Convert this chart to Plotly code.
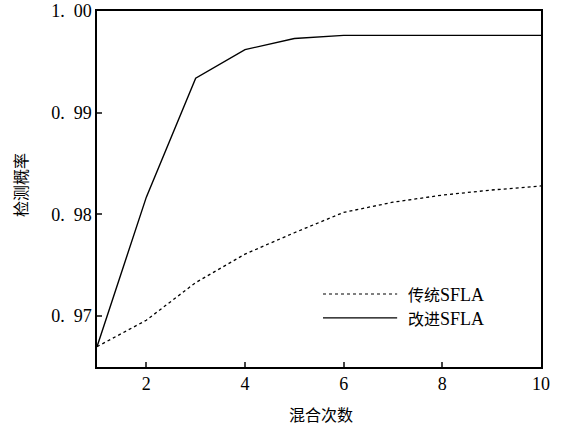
import plotly.graph_objects as go

mix_counts = [1, 2, 3, 4, 5, 6, 7, 8, 9, 10]
traditional_sfla = [0.9670, 0.9696, 0.9733, 0.9761, 0.9782, 0.9802, 0.9812, 0.9819, 0.9824, 0.9828]
improved_sfla = [0.9670, 0.9817, 0.9934, 0.9962, 0.9973, 0.9976, 0.9976, 0.9976, 0.9976, 0.9976]
series_names = ["传统SFLA", "改进SFLA"]
y_tick_vals = [0.97, 0.98, 0.99, 1.00]
y_tick_text = ["0.\u200297", "0.\u200298", "0.\u200299", "1.\u200200"]
x_tick_vals = [2, 4, 6, 8, 10]

serif = "Liberation Serif"
cjk = "Noto Sans CJK SC"

fig = go.Figure()
fig.add_trace(go.Scatter(x=mix_counts, y=traditional_sfla, mode="lines", name=series_names[0],
                         line=dict(color="black", width=1.3, dash="dot"), showlegend=False))
fig.add_trace(go.Scatter(x=mix_counts, y=improved_sfla, mode="lines", name=series_names[1],
                         line=dict(color="black", width=1.4), showlegend=False))

legend_rows = [(0.205, "dot", 1.2), (0.138, "solid", 1.4)]
for (yy, dash, w), name in zip(legend_rows, series_names):
    fig.add_shape(type="line", xref="paper", yref="paper", x0=0.509, x1=0.676, y0=yy, y1=yy,
                  line=dict(color="black", width=w, dash=dash))
    label = ('<span style="font-family:Noto Sans CJK SC;font-size:16px">' + name[:2] + '</span>'
             + '<span style="font-family:Liberation Serif">' + name[2:] + '</span>')
    fig.add_annotation(xref="paper", yref="paper", x=0.697, y=yy, text=label, showarrow=False,
                       xanchor="left", yanchor="middle",
                       font=dict(family=serif, size=18, color="black"))

fig.add_annotation(xref="paper", yref="paper", x=0.5045, y=-0.132, text="混合次数", showarrow=False,
                   xanchor="center", yanchor="middle", font=dict(family=cjk, size=16, color="black"))
fig.add_annotation(xref="paper", yref="paper", x=-0.1734, y=0.511, text="检测概率", showarrow=False,
                   textangle=-90, xanchor="center", yanchor="middle",
                   font=dict(family=cjk, size=16, color="black"))

fig.update_layout(
    width=565, height=429,
    margin=dict(l=97, r=24, t=11, b=62, autoexpand=False),
    paper_bgcolor="white", plot_bgcolor="white",
    font=dict(family=serif, size=17, color="black"),
)
fig.update_xaxes(range=[1, 10], tickvals=x_tick_vals, ticks="inside", ticklen=5, tickwidth=1.5,
                 showline=True, linecolor="black", linewidth=1.5, mirror=True, showgrid=False,
                 zeroline=False, automargin=False, tickfont=dict(size=18, family=serif))
fig.update_yaxes(range=[0.965, 1.00], tickvals=y_tick_vals, ticktext=y_tick_text, ticks="inside",
                 ticklen=5, tickwidth=1.5,
                 showline=True, linecolor="black", linewidth=1.5, mirror=True, showgrid=False,
                 zeroline=False, automargin=False, tickfont=dict(size=18, family=serif))

fig.write_html("out.html")
